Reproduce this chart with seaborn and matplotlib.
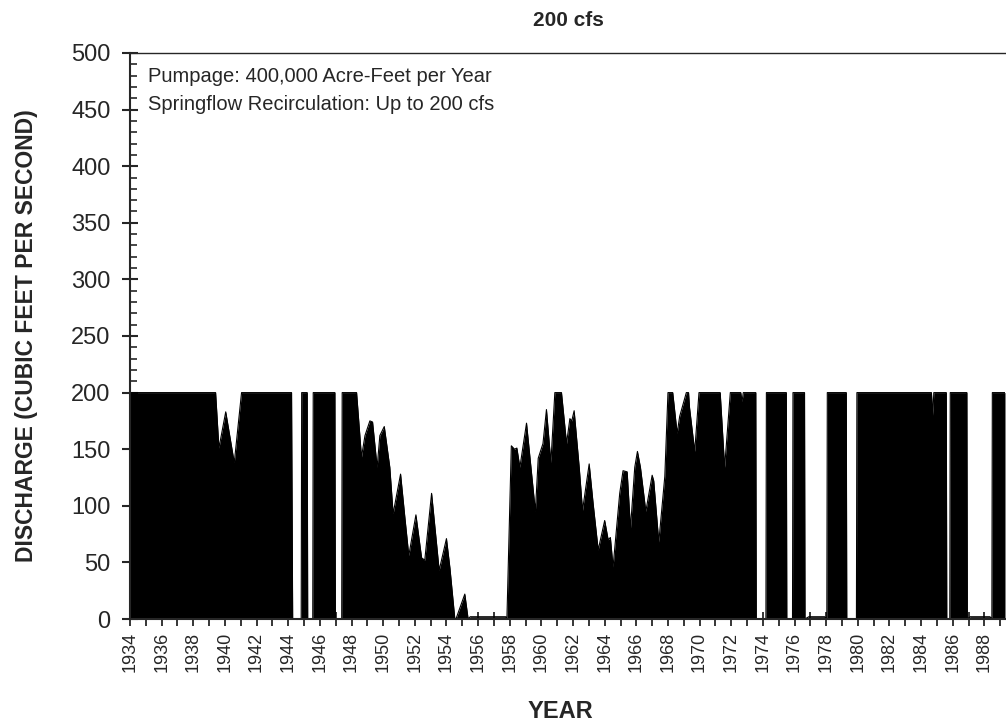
import matplotlib
matplotlib.use("Agg")
import matplotlib.pyplot as plt
import seaborn as sns
import numpy as np
from matplotlib.ticker import MultipleLocator, FixedLocator

# ---- data ----
years = [
    1934.0, 1939.41, 1939.62, 1940.05, 1940.59, 1941.05, 1944.21, 1944.28, 1944.82, 1944.85,
    1945.2, 1945.23, 1945.55, 1945.58, 1946.95, 1946.98, 1947.38, 1947.41, 1948.32, 1948.63,
    1948.85, 1949.16, 1949.33, 1949.62, 1949.79, 1950.07, 1950.42, 1950.63, 1951.1, 1951.37,
    1951.62, 1952.07, 1952.43, 1952.63, 1953.06, 1953.54, 1954.0, 1954.22, 1954.53, 1954.6,
    1955.16, 1955.37, 1955.5, 1957.75, 1957.82, 1958.1, 1958.3, 1958.45, 1958.64, 1959.06,
    1959.62, 1959.8, 1960.1, 1960.32, 1960.6, 1960.85, 1961.27, 1961.59, 1961.8, 1961.92,
    1962.07, 1962.39, 1962.6, 1963.02, 1963.27, 1963.59, 1964.0, 1964.22, 1964.36, 1964.53,
    1964.95, 1965.16, 1965.42, 1965.63, 1965.9, 1966.07, 1966.26, 1966.6, 1967.0, 1967.1,
    1967.42, 1967.8, 1968.0, 1968.3, 1968.58, 1968.74, 1969.16, 1969.3, 1969.36, 1969.69,
    1969.96, 1971.3, 1971.58, 1971.94, 1972.6, 1972.68, 1972.76, 1973.55, 1973.58, 1974.19,
    1974.22, 1975.48, 1975.51, 1975.87, 1975.9, 1976.63, 1976.66, 1976.9, 1977.9, 1978.04,
    1978.07, 1979.27, 1979.3, 1979.91, 1979.94, 1984.65, 1984.74, 1984.8, 1985.59, 1985.62,
    1985.81, 1985.84, 1986.89, 1986.92, 1987.1, 1988.35, 1988.47, 1988.5, 1989.3,
]
discharge = [
    200, 200, 151, 183, 138, 200, 200, 0, 0, 200,
    200, 0, 0, 200, 200, 0, 0, 200, 200, 143,
    162, 175, 174, 134, 162, 170, 134, 93, 128, 90,
    56, 92, 54, 52, 111, 43, 71, 45, 0, 0,
    22, 0, 2, 2, 0, 153, 150, 151, 134, 173,
    95, 142, 155, 185, 138, 200, 200, 155, 177, 175,
    184, 134, 96, 137, 102, 61, 87, 70, 72, 46,
    111, 131, 130, 80, 134, 148, 134, 95, 127, 122,
    68, 126, 200, 200, 164, 179, 200, 200, 187, 148,
    200, 200, 134, 200, 200, 192, 200, 200, 0, 0,
    200, 200, 0, 0, 200, 200, 0, 2, 2, 0,
    200, 200, 0, 0, 200, 200, 180, 200, 200, 0,
    0, 200, 200, 0, 2, 2, 0, 200, 200,
]
tick_years = list(range(1934, 1990, 2))
minor_years = list(range(1935, 1990, 2))
title = "200 cfs"
note_lines = ["Pumpage: 400,000 Acre-Feet per Year",
              "Springflow Recirculation: Up to 200 cfs"]

# ---- style ----
sns.set_style("ticks")
plt.rcParams['font.family'] = ['Liberation Sans', 'DejaVu Sans']

W, H = 1006, 725
fig = plt.figure(figsize=(W / 100, H / 100), dpi=100)
ax = fig.add_axes([130 / W, 1 - 619 / H, (W - 131) / W, (619 - 53) / H])

ax.fill_between(years, discharge, 0, color='black', linewidth=0)
sns.lineplot(x=years, y=discharge, ax=ax, color='black', linewidth=0.8, sort=False)

ax.set_xlim(1934, 1989.3)
ax.set_ylim(0, 500)

ax.xaxis.set_major_locator(FixedLocator(tick_years))
ax.xaxis.set_minor_locator(FixedLocator(minor_years))
ax.set_xticklabels([str(y) for y in tick_years], rotation=90, fontsize=13)
ax.yaxis.set_major_locator(MultipleLocator(50))
ax.yaxis.set_minor_locator(MultipleLocator(10))
ax.tick_params(axis='y', which='major', direction='inout', length=12, width=1.5,
               labelsize=17, pad=8)
ax.tick_params(axis='y', which='minor', direction='in', length=5, width=1.2)
ax.tick_params(axis='x', which='both', direction='inout', length=10, width=1.3, pad=4)

for s in ['left', 'bottom']:
    ax.spines[s].set_linewidth(1.5)
ax.spines['top'].set_linewidth(1.0)
ax.spines['right'].set_visible(False)

ax.set_xlabel("")
ax.set_ylabel("")

fig.text(568 / W, 1 - 20 / H, title, ha='center', va='center', fontsize=15, fontweight='bold')
fig.text(560 / W, 1 - 712 / H, "YEAR", ha='center', va='center', fontsize=17, fontweight='bold')
fig.text(27 / W, 1 - 336 / H, "DISCHARGE (CUBIC FEET PER SECOND)", ha='center', va='center',
         rotation=90, fontsize=16.5, fontweight='bold')
fig.text(148 / W, 1 - 77 / H, note_lines[0], ha='left', va='center', fontsize=14.5)
fig.text(148 / W, 1 - 105 / H, note_lines[1], ha='left', va='center', fontsize=14.5)

fig.savefig("out.png", dpi=100)
